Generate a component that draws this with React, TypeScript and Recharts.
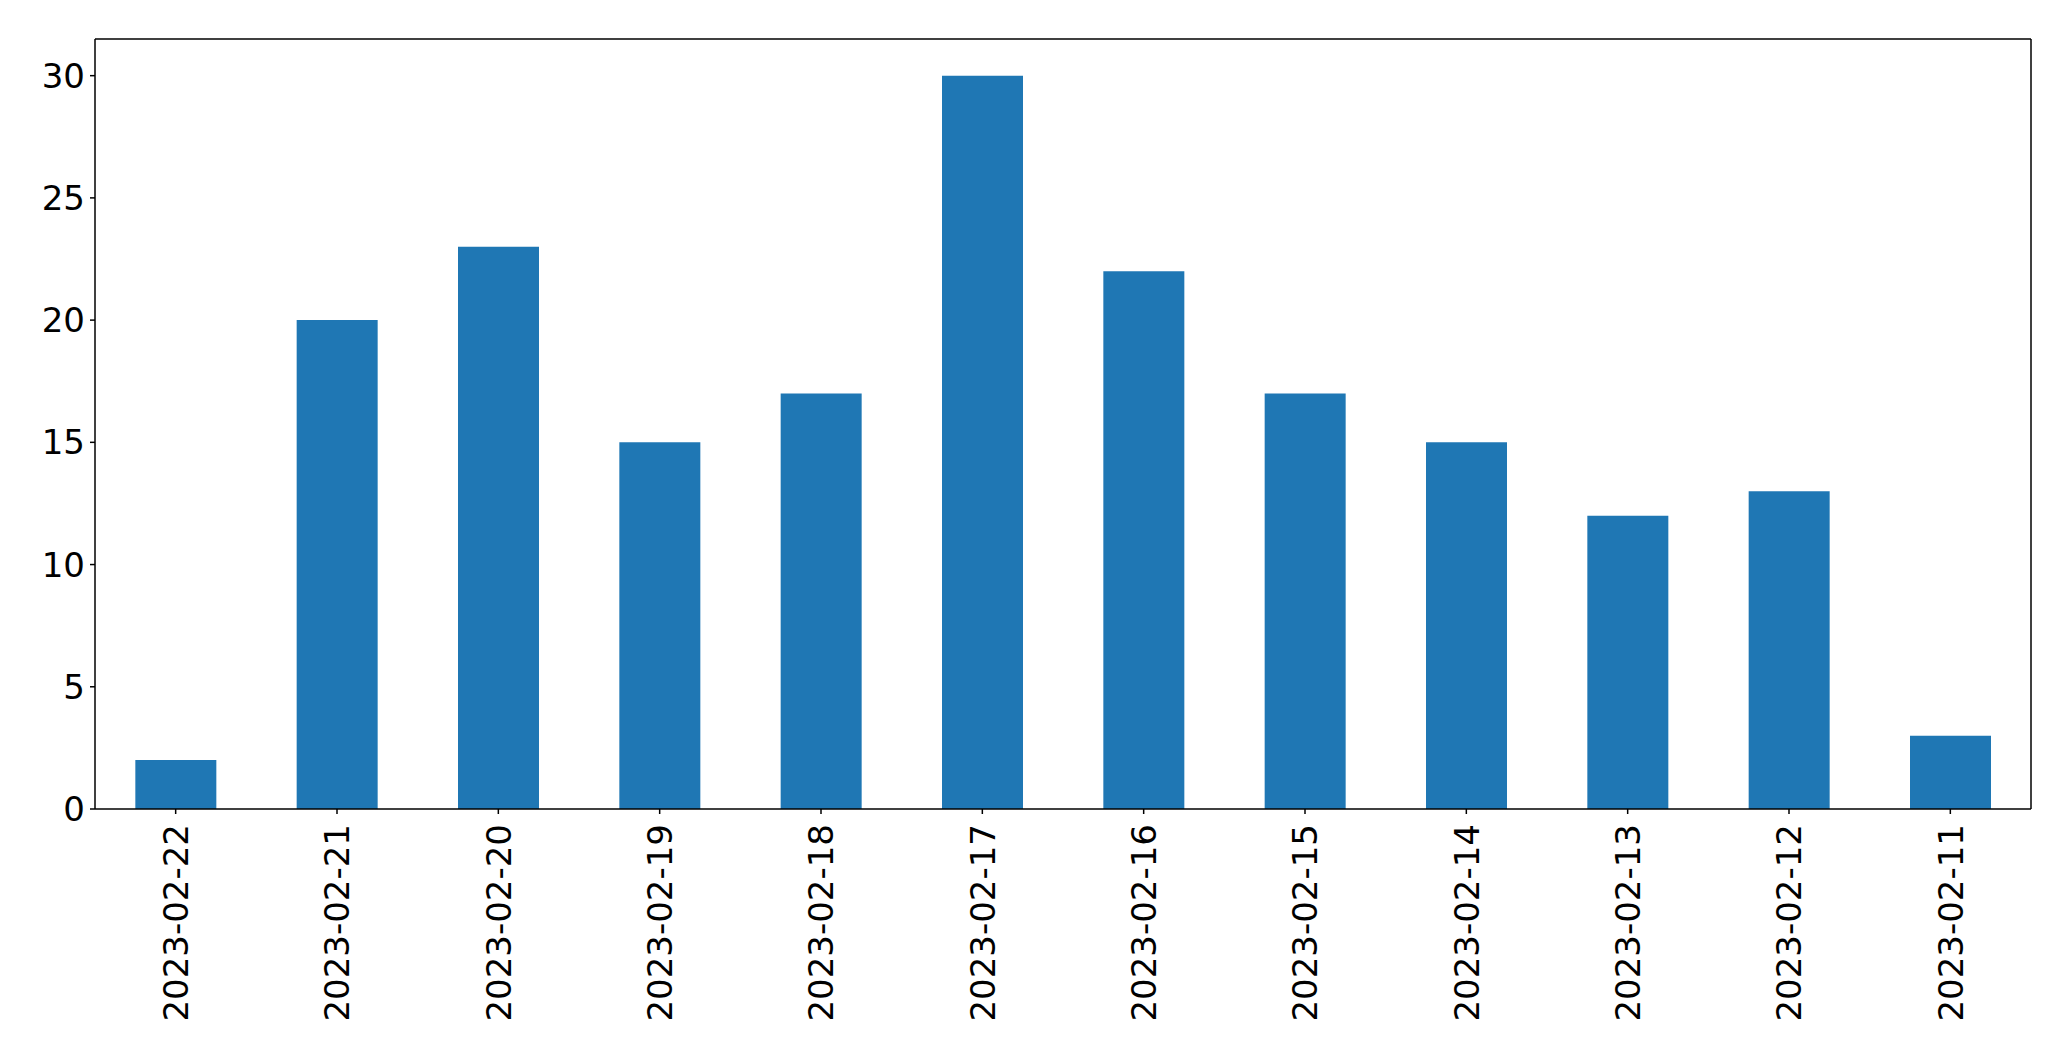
import { BarChart, Bar, XAxis, YAxis } from 'recharts'

const dates = [
  '2023-02-22', '2023-02-21', '2023-02-20', '2023-02-19', '2023-02-18', '2023-02-17',
  '2023-02-16', '2023-02-15', '2023-02-14', '2023-02-13', '2023-02-12', '2023-02-11',
]
const counts = [2, 20, 23, 15, 17, 30, 22, 17, 15, 12, 13, 3]
const yTicks = [0, 5, 10, 15, 20, 25, 30]

const font = '"DejaVu Sans", sans-serif'

function DateTick({ x, y, payload }: any) {
  return (
    <g transform={`translate(${x},${y})`}>
      <text transform="rotate(-90)" x={0} y={0} dy="0.36em" textAnchor="end" fontSize={34} fill="#000" fontFamily={font}>
        {payload.value}
      </text>
    </g>
  )
}

export default function App() {
  const data = dates.map((d, i) => ({ date: d, count: counts[i] }))

  return (
    <div style={{ position: 'fixed', left: 0, top: 0, background: '#fff' }}>
      <BarChart
        width={2071} height={1061} data={data}
        margin={{ top: 38, right: 39, left: 0, bottom: 0 }}
        barCategoryGap="25%"
      >
        <XAxis
          dataKey="date" height={252} interval={0}
          axisLine={{ stroke: '#000', strokeWidth: 1.5 }}
          tickLine={{ stroke: '#000', strokeWidth: 1.5 }}
          tickSize={5} tickMargin={10}
          tick={<DateTick />}
        />
        <XAxis
          xAxisId="top" dataKey="date" orientation="top" height={1}
          axisLine={{ stroke: '#000', strokeWidth: 1.5 }} tickLine={false} tick={false}
        />
        <YAxis
          width={95} domain={[0, 31.5]} ticks={yTicks} allowDataOverflow
          axisLine={{ stroke: '#000', strokeWidth: 1.5 }}
          tickLine={{ stroke: '#000', strokeWidth: 1.5 }}
          tickSize={5} tickMargin={5}
          tick={{ fontSize: 34, fill: '#000', fontFamily: font }}
        />
        <YAxis
          yAxisId="right" orientation="right" width={1} domain={[0, 31.5]}
          axisLine={{ stroke: '#000', strokeWidth: 1.5 }} tickLine={false} tick={false}
        />
        <Bar dataKey="count" fill="#1f77b4" isAnimationActive={false} />
      </BarChart>
    </div>
  )
}
